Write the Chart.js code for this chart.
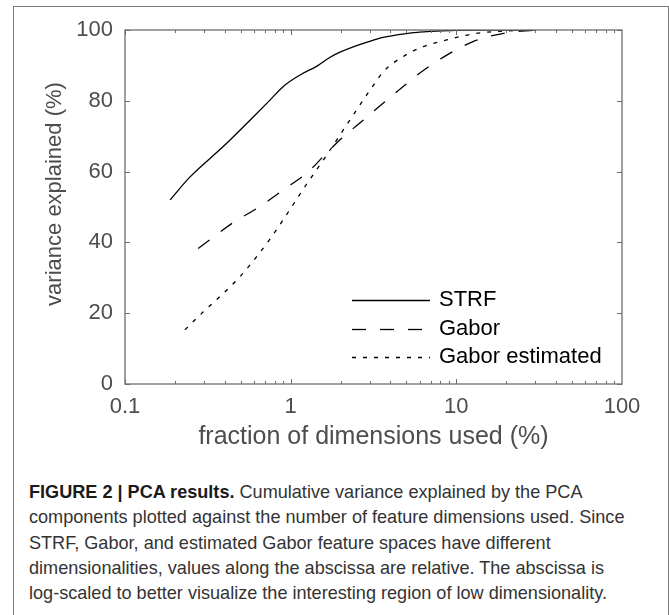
<!DOCTYPE html>
<html>
<head>
<meta charset="utf-8">
<script src="https://cdn.jsdelivr.net/npm/chart.js@4.4.0/dist/chart.umd.min.js"></script>
<style>
  html, body { margin: 0; padding: 0; background: #fff; }
  body { width: 669px; height: 615px; position: relative; overflow: hidden; font-family: "Liberation Sans", Arial, sans-serif; }
  #frame { position: absolute; left: 13px; top: 6px; width: 656px; height: 700px; border: 1.5px solid #7a7a7a; box-sizing: border-box; }
  #wrap { position: absolute; left: 0; top: 0; width: 669px; height: 470px; }
  #caption { position: absolute; left: 29px; top: 480px; font-size: 18.1px; line-height: 25.3px; color: #333; white-space: nowrap; }
  #caption b { color: #1a1a1a; }
</style>
</head>
<body>
<div id="frame"></div>
<div id="wrap"><canvas id="pca" width="669" height="470"></canvas></div>
<div id="caption"><b>FIGURE 2 | PCA results.</b> Cumulative variance explained by the PCA<br>components plotted against the number of feature dimensions used. Since<br>STRF, Gabor, and estimated Gabor feature spaces have different<br>dimensionalities, values along the abscissa are relative. The abscissa is<br>log-scaled to better visualize the interesting region of low dimensionality.</div>
<script>
// fraction of dimensions used (%) vs. cumulative variance explained (%)
var strfX = [0.187, 0.247, 0.39, 0.57, 0.75, 0.9, 1.14, 1.44, 1.73, 2.0, 2.5, 3.0, 3.5, 5, 7, 10, 15, 30];
var strfY = [52, 58.5, 67, 74.6, 80.2, 84, 87.3, 89.8, 92.3, 93.8, 95.6, 96.8, 97.8, 99, 99.6, 99.9, 100, 100];

var gaborX = [0.277, 0.45, 0.65, 0.9, 1.28, 1.57, 2.03, 2.75, 3.23, 4.47, 6.17, 8.75, 12.6, 19.9, 30];
var gaborY = [38.3, 45.6, 50.1, 54.8, 60, 64.2, 69.4, 74.6, 77.4, 82.9, 88.2, 92.9, 96.7, 99.2, 100];

var estX = [0.23, 0.297, 0.392, 0.494, 0.624, 0.768, 0.925, 1.25, 1.57, 1.73, 2.08, 2.28, 3.01, 3.71, 4.78, 6.3, 8.75, 12.6, 19.2, 27.8];
var estY = [15.3, 20.4, 25.6, 30.3, 36, 41.6, 47.2, 56.5, 63.2, 66.1, 71.8, 74.6, 83, 88.7, 92.5, 95.3, 97.2, 98.9, 99.7, 100];

var xTicks = [0.1, 1, 10, 100];
var yTicks = [0, 20, 40, 60, 80, 100];

var xTitle = 'fraction of dimensions used (%)';
var yTitle = 'variance explained (%)';

function toPoints(xs, ys) {
    return xs.map(function (x, i) { return { x: x, y: ys[i] }; });
}

var axisGray = '#4d4d4d';
var fontFamily = '"Liberation Sans", Arial, sans-serif';

// box, inward ticks, axis titles and the in-plot legend
var matlabAxes = {
    id: 'matlabAxes',
    afterDraw: function (chart) {
        var ctx = chart.ctx;
        var a = chart.chartArea;
        var xs = chart.scales.x, ys = chart.scales.y;
        ctx.save();
        ctx.strokeStyle = '#6e6e6e';
        ctx.lineWidth = 1.3;
        ctx.setLineDash([]);
        ctx.strokeRect(a.left, a.top, a.right - a.left, a.bottom - a.top);

        ctx.lineWidth = 1;
        ctx.beginPath();
        for (var d = 0.1; d < 100; d *= 10) {
            for (var m = 1; m <= 9; m++) {
                var v = d * m;
                var px = Math.round(xs.getPixelForValue(v)) + 0.5;
                var len = m === 1 ? 5 : 3;
                ctx.moveTo(px, a.bottom); ctx.lineTo(px, a.bottom - len);
                ctx.moveTo(px, a.top); ctx.lineTo(px, a.top + len);
            }
        }
        yTicks.forEach(function (v) {
            var py = Math.round(ys.getPixelForValue(v)) + 0.5;
            ctx.moveTo(a.left, py); ctx.lineTo(a.left + 5, py);
            ctx.moveTo(a.right, py); ctx.lineTo(a.right - 5, py);
        });
        ctx.stroke();

        // axis titles
        ctx.fillStyle = axisGray;
        ctx.textAlign = 'center';
        ctx.textBaseline = 'middle';
        ctx.font = '25px ' + fontFamily;
        ctx.fillText(xTitle, (a.left + a.right) / 2, 437);
        ctx.save();
        ctx.translate(55, 194);
        ctx.rotate(-Math.PI / 2);
        ctx.font = '22px ' + fontFamily;
        ctx.fillText(yTitle, 0, 0);
        ctx.restore();

        // legend
        ctx.font = '22px ' + fontFamily;
        ctx.textAlign = 'left';
        ctx.fillStyle = '#000';
        var rows = [300, 329, 357];
        chart.data.datasets.forEach(function (ds, i) {
            var y = rows[i] + 0.5;
            ctx.strokeStyle = ds.borderColor;
            ctx.lineWidth = ds.borderWidth;
            ctx.setLineDash(ds.borderDash || []);
            ctx.beginPath();
            ctx.moveTo(352, y); ctx.lineTo(430, y);
            ctx.stroke();
            ctx.fillText(ds.label, 439, rows[i]);
        });
        ctx.restore();
    }
};

new Chart(document.getElementById('pca'), {
    type: 'line',
    data: {
        datasets: [{
            label: 'STRF',
            data: toPoints(strfX, strfY),
            borderColor: '#000',
            borderWidth: 1.3,
            borderDash: []
        }, {
            label: 'Gabor',
            data: toPoints(gaborX, gaborY),
            borderColor: '#000',
            borderWidth: 1.3,
            borderDash: [14, 14]
        }, {
            label: 'Gabor estimated',
            data: toPoints(estX, estY),
            borderColor: '#000',
            borderWidth: 1.3,
            borderDash: [4, 7]
        }]
    },
    options: {
        responsive: false,
        animation: false,
        parsing: false,
        pointRadius: 0,
        cubicInterpolationMode: 'monotone',
        layout: {
            padding: { left: 0, top: 30, right: 47, bottom: 0 }
        },
        plugins: {
            legend: { display: false },
            tooltip: { enabled: false }
        },
        scales: {
            x: {
                type: 'logarithmic',
                min: 0.1,
                max: 100,
                afterBuildTicks: function (s) {
                    s.ticks = xTicks.map(function (v) { return { value: v }; });
                },
                afterFit: function (s) { s.height = 86; },
                ticks: {
                    callback: function (v) { return String(v); },
                    font: { size: 22, family: fontFamily },
                    color: axisGray,
                    padding: 10,
                    maxRotation: 0,
                    autoSkip: false
                },
                grid: { display: false, drawTicks: false },
                border: { display: false }
            },
            y: {
                min: 0,
                max: 100,
                afterBuildTicks: function (s) {
                    s.ticks = yTicks.map(function (v) { return { value: v }; });
                },
                afterFit: function (s) { s.width = 125; },
                ticks: {
                    font: { size: 22, family: fontFamily },
                    color: axisGray,
                    padding: 12
                },
                grid: { display: false, drawTicks: false },
                border: { display: false }
            }
        }
    },
    plugins: [matlabAxes]
});
</script>
</body>
</html>
